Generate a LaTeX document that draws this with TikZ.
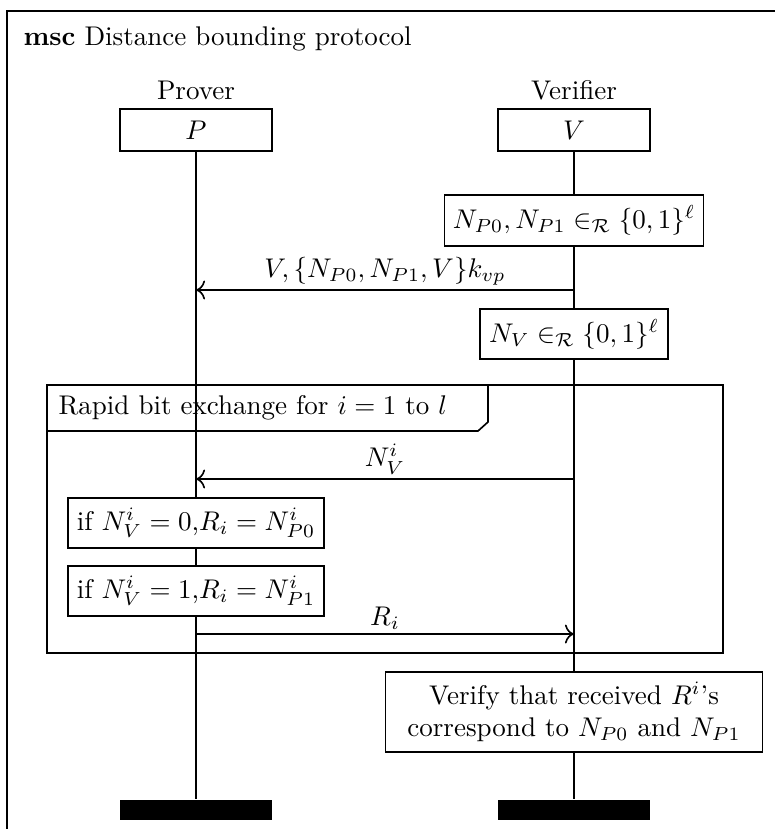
\documentclass[tikz,border=0pt]{standalone}
\usepackage{tikz}
\usetikzlibrary{arrows.meta}
\tikzset{headbox/.style={draw, fill=white, line width=0.6pt, minimum width=56.2pt, minimum height=15.5pt, inner sep=0pt}}
\tikzset{actbox/.style={draw, fill=white, line width=0.6pt, inner sep=0pt}}
\tikzset{endbar/.style={fill=black, minimum width=56.2pt, minimum height=7.4pt, inner sep=0pt}}
\tikzset{msg/.style={line width=0.6pt, -{To[scale=1.15]}}}
\tikzset{msglabel/.style={above, inner sep=1.5pt}}
\usepackage{amsfonts}
\usepackage{amssymb}
\usepackage{amsmath}

\begin{document}
\begin{tikzpicture}[x=0.37pt,y=-0.37pt]
                    \clip (0,0) rectangle (775,829);
                    \draw[line width=0.7pt] (7,11) rectangle (800,850);
                    \node[anchor=base west,inner sep=0pt] (title) at (23,46) {\textbf{msc} Distance bounding protocol};

                    \node[anchor=base,inner sep=0pt] (prover) at (196,99) {Prover};
                    \node[anchor=base,inner sep=0pt] (verifier) at (574,99) {Verifier};
                    \node[headbox] (P) at (196,130) {$P$};
                    \node[headbox] (V) at (574,130) {$V$};
                    \node[endbar] (endP) at (196,810) {};
                    \node[endbar] (endV) at (574,810) {};
                    \draw[line width=0.6pt] (P.south) -- (endP.north);
                    \draw[line width=0.6pt] (V.south) -- (endV.north);

                    \node[actbox,minimum width=95.8pt,minimum height=18.9pt] (nonceP) at (574,220.5) {$N_{P0}, N_{P1} \in_{\mathcal{R}} \{0,1\}^{\ell}$};
                    \coordinate (m1v) at (574,290);
                    \coordinate (m1p) at (196,290);
                    \draw[msg] (m1v) -- node[msglabel] {$V, \{N_{P0}, N_{P1}, V\}k_{vp}$} (m1p);
                    \node[actbox,minimum width=69.6pt,minimum height=18.5pt] (nonceV) at (574,334) {$N_V \in_{\mathcal{R}} \{0,1\}^{\ell}$};

                    % loop over the rapid bit exchange
                    \draw[line width=0.6pt] (47,385) rectangle (723,653);
                    \draw[line width=0.6pt] (47,431) -- (478,431) -- (488,422) -- (488,385);
                    \node[anchor=base west,inner sep=0pt] (loop) at (58,414) {Rapid bit exchange for $i=1$ to $l$};

                    \coordinate (m2v) at (574,479);
                    \coordinate (m2p) at (196,479);
                    \draw[msg] (m2v) -- node[msglabel] {$N_V^i$} (m2p);
                    \node[actbox,minimum width=94.7pt,minimum height=18.5pt] (resp0) at (196,523) {if $N_V^i = 0$,$R_i = N_{P0}^i$};
                    \node[actbox,minimum width=94.7pt,minimum height=18.5pt] (resp1) at (196,591) {if $N_V^i = 1$,$R_i = N_{P1}^i$};
                    \coordinate (m3p) at (196,634);
                    \coordinate (m3v) at (574,634);
                    \draw[msg] (m3p) -- node[msglabel] {$R_i$} (m3v);

                    \node[actbox,minimum width=139.5pt,minimum height=29.6pt,align=center] (check) at (574,712) {Verify that received $R^i$'s\\correspond to $N_{P0}$ and $N_{P1}$};
                \end{tikzpicture}
\end{document}
